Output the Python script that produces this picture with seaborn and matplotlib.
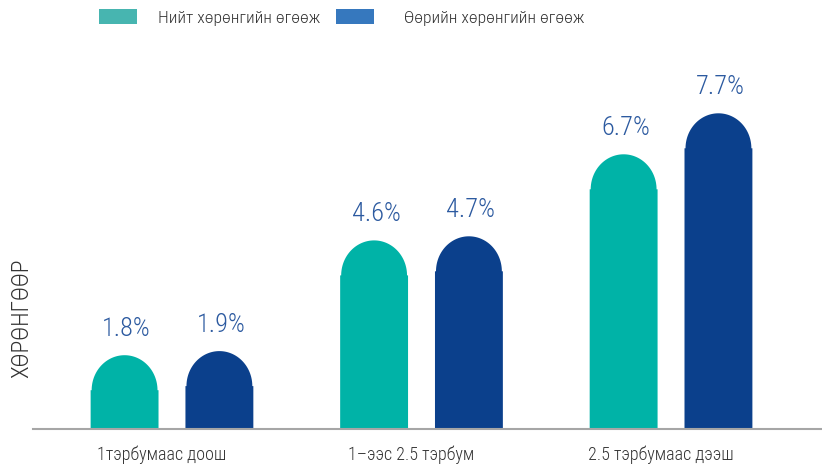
import numpy as np
import pandas as pd
import seaborn as sns
import matplotlib.pyplot as plt
import matplotlib.transforms as mtransforms
from matplotlib.path import Path
from matplotlib.patches import PathPatch, Patch

# Return on assets / return on equity by asset-size group (%)
categories = ["1тэрбумаас доош", "1–ээс 2.5 тэрбум", "2.5 тэрбумаас дээш"]
series = ["Нийт хөрөнгийн өгөөж", "Өөрийн хөрөнгийн өгөөж"]
total_return = [1.8, 4.6, 6.7]
equity_return = [1.9, 4.7, 7.7]
y_title = "ХӨРӨНГӨӨР"

bar_colors = ["#00b3a7", "#0b408c"]
legend_colors = ["#47b5b0", "#3678be"]
label_color = "#2c5aa0"
text_color = "#333333"

df = pd.DataFrame({
    "group": categories * 2,
    "series": [series[0]] * len(categories) + [series[1]] * len(categories),
    "value": total_return + equity_return,
})

sns.set_theme(style="white")
plt.rcParams["font.family"] = ["Roboto Condensed", "PT Sans Narrow", "DejaVu Sans"]
plt.rcParams["font.weight"] = "light"

W, H = 822, 470
PX_PER_UNIT = 41.0
fig = plt.figure(figsize=(W / 100, H / 100), dpi=100)
ax = fig.add_axes([33 / W, 41 / H, 789 / W, 429 / H])

sns.barplot(data=df, x="group", y="value", hue="series", hue_order=series,
            palette=bar_colors, saturation=1, width=0.76, gap=0.284,
            errorbar=None, legend=False, ax=ax)

ax.set_xlim(-0.557, 2.605)
ax.set_ylim(0, 429 / PX_PER_UNIT)

# Replace flat bar tops with a rounded dome
cap_h = 35 / PX_PER_UNIT
for p in list(ax.patches):
    x0, w, h = p.get_x(), p.get_width(), p.get_height()
    color = p.get_facecolor()
    cx = x0 + w / 2
    rx = w / 2 * 0.97
    cy = h - cap_h
    t = np.linspace(np.pi, 0, 80)
    arc = list(zip(cx + rx * np.cos(t), cy + cap_h * np.sin(t)))
    verts = [(x0, 0), (x0, cy)] + arc + [(x0 + w, cy), (x0 + w, 0), (x0, 0)]
    codes = [Path.MOVETO] + [Path.LINETO] * (len(verts) - 2) + [Path.CLOSEPOLY]
    ax.add_patch(PathPatch(Path(verts, codes), facecolor=color, edgecolor="none"))
    p.remove()
    ax.annotate(f"{h:.1f}%", xy=(cx, h), xytext=(2, 14), textcoords="offset pixels",
                ha="center", va="bottom", fontsize=19, color=label_color)

for side in ["left", "top", "right"]:
    ax.spines[side].set_visible(False)
ax.spines["bottom"].set_color("#a6a6a6")
ax.spines["bottom"].set_linewidth(1.5)

ax.set_yticks([])
ax.set_xlabel("")
ax.set_ylabel("")
ax.tick_params(axis="x", length=0, pad=12, labelsize=13, labelcolor=text_color)
shift = mtransforms.ScaledTranslation(-10 / 100, 0, fig.dpi_scale_trans)
for lbl in ax.get_xticklabels():
    lbl.set_transform(lbl.get_transform() + shift)

fig.text(22 / W, 1 - 318 / H, y_title, rotation=90, ha="center", va="center",
         fontsize=17, color=text_color)

# Two legend entries, each placed on its own
LEG_FS = 12.6
em = LEG_FS * 100 / 72
for name, col, x_px, pad_px in [(series[0], legend_colors[0], 99, 21),
                                (series[1], legend_colors[1], 336, 30)]:
    fig.legend(handles=[Patch(facecolor=col, edgecolor="none")], labels=[name],
               loc="center left", bbox_to_anchor=(x_px / W, 1 - 17.5 / H),
               frameon=False, fontsize=LEG_FS, handlelength=38 / em,
               handleheight=15 / em, handletextpad=pad_px / em,
               borderpad=0, borderaxespad=0, labelcolor=text_color)

fig.savefig("out.png", dpi=100)
